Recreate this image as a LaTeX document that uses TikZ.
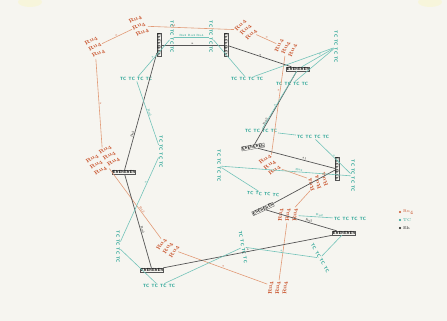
\documentclass[tikz,border=0pt]{standalone}
\usepackage{graphicx}
\definecolor{paper}{RGB}{246,245,240}
\definecolor{ruc}{RGB}{200,80,40}
\definecolor{rul}{RGB}{226,155,120}
\definecolor{tcc}{RGB}{30,160,145}
\definecolor{tcl}{RGB}{115,195,185}
\definecolor{ehc}{RGB}{20,20,20}
\definecolor{ehl}{RGB}{85,85,85}
\newcommand\itRu{{\fontsize{5.5}{6}\selectfont\bfseries Ru$_{\mathbf 4}$}}
\newcommand\itTC{{\fontsize{4.6}{5}\selectfont\sffamily\bfseries TC}}
\newcommand\itEh{{\fontsize{4.4}{5}\selectfont\sffamily\bfseries Eh}}
\newcommand\rthree{\rotatebox{90}{\itRu}\hspace{2pt}\rotatebox{90}{\itRu}\hspace{2pt}\rotatebox{90}{\itRu}}
\newcommand\tfour{\itTC\hspace{2pt}\itTC\hspace{2pt}\itTC\hspace{2pt}\itTC}
\newcommand\efour{\itEh\hspace{0.3pt}\itEh\hspace{0.3pt}\itEh\hspace{0.3pt}\itEh}
\tikzset{
  rnode/.style={text=ruc, inner sep=0.6pt},
  tnode/.style={text=tcc, inner sep=0.6pt},
  knode/.style={text=ehc, draw=ehl, line width=0.3pt, inner sep=0.5pt},
  rl/.style={draw=rul, line width=0.6pt},
  tl/.style={draw=tcl, line width=0.6pt},
  kl/.style={draw=ehl, line width=0.7pt},
  lab/.style={font=\fontsize{3}{3.5}\selectfont, inner sep=0.6pt, sloped, above},
}
\begin{document}
\begin{tikzpicture}[x=1pt,y=-1pt]
\fill[paper] (0,0) rectangle (447,321);
\useasboundingbox (0,0) rectangle (447,321);
\fill[yellow!15!paper, opacity=0.6] (30,2) ellipse (12 and 5);
\fill[yellow!15!paper, opacity=0.6] (430,2) ellipse (12 and 5);

% orange clusters
\node[rnode, rotate=-60] (O1) at (95,47) {\rthree};
\node[rnode, rotate=-62] (O2) at (139,26) {\rthree};
\node[rnode, rotate=-42] (O3) at (246,30) {\rthree};
\node[rnode, rotate=-20] (O4) at (286,48) {\rthree};
\node[rnode, rotate=-55, align=center] (O5) at (103,160) {\rthree\\[1pt]\rthree};
\node[rnode, rotate=-30] (O6) at (168,248) {\rthree};
\node[rnode, rotate=-50] (O7) at (270,165) {\rthree};
\node[rnode, rotate=22] (O8) at (318,182) {\rthree};
\node[rnode] (O9) at (288,215) {\rthree};
\node[rnode] (O10) at (278,288) {\rthree};

% black clusters
\node[knode, rotate=-90] (K1) at (159,45) {\efour};
\node[knode, rotate=-90] (K2) at (226,45) {\efour};
\node[knode] (K3) at (298,69) {\efour};
\node[knode, rotate=10] (K4) at (253,147) {\efour};
\node[knode, rotate=-90] (K5) at (337,169) {\efour};
\node[knode] (K6) at (124,172) {\efour};
\node[knode, rotate=25] (K7) at (263,209) {\efour};
\node[knode] (K8) at (344,233) {\efour};
\node[knode] (K9) at (152,270) {\efour};

% teal clusters
\node[tnode, rotate=-90] (T1) at (172,37) {\tfour};
\node[tnode, rotate=-90] (T2) at (211,37) {\tfour};
\node[tnode] (T3) at (136,79) {\tfour};
\node[tnode] (T4) at (247,79) {\tfour};
\node[tnode, rotate=-90] (T5) at (336,47) {\tfour};
\node[tnode] (T6) at (292,84) {\tfour};
\node[tnode] (T7) at (261,131) {\tfour};
\node[tnode] (T8) at (313,137) {\tfour};
\node[tnode, rotate=-90] (T9) at (161,152) {\tfour};
\node[tnode, rotate=-90] (T10) at (219,166) {\tfour};
\node[tnode, rotate=-90] (T11) at (353,176) {\tfour};
\node[tnode, rotate=-5] (T12) at (263,194) {\tfour};
\node[tnode] (T13) at (350,219) {\tfour};
\node[tnode, rotate=-90] (T14) at (118,247) {\tfour};
\node[tnode, rotate=-80] (T15) at (243,247) {\tfour};
\node[tnode, rotate=-60] (T16) at (320,258) {\tfour};
\node[tnode] (T17) at (159,286) {\tfour};

% orange edges
\draw[rl] (O1) -- node[lab, text=ruc] {a} (O2);
\draw[rl] (O1) -- node[lab, text=ruc] {a} (O5);
\draw[rl] (O2) -- node[lab, text=ruc, pos=0.3] {a1} (O3);
\draw[rl] (O3) -- node[lab, text=ruc] {a} (O4);
\draw[rl] (O4) -- node[lab, text=ruc, pos=0.35] {a} (O7);
\draw[rl] (O5) -- node[lab, text=ruc, pos=0.6] {Ru2} (O6);
\draw[rl] (O6) -- node[lab, text=ruc] {a} (O10);
\draw[rl] (O7) -- node[lab, text=ruc] {a} (O8);
\draw[rl] (O8) -- (O9);
\draw[rl] (O9) -- (O10);

% black edges
\draw[kl] (K1) -- node[lab, text=ehc] {a} (K2);
\draw[kl] (K2) -- node[lab, text=ehc] {a} (K3);
\draw[kl] (K1) -- node[lab, text=ehc, pos=0.7] {Ru2} (K6);
\draw[kl] (K6) -- node[lab, text=ehc, pos=0.6] {Ru2} (K9);
\draw[kl] (K3) -- node[lab, text=ehc, pos=0.7] {Ru2} (K4);
\draw[kl] (K4) -- node[lab, text=ehc, pos=0.6] {a1} (K5);
\draw[kl] (K5) -- (K7);
\draw[kl] (K7) -- node[lab, text=ehc, pos=0.6] {Ru2} (K8);
\draw[kl] (K8) -- node[lab, text=ehc] {a} (K9);

% teal edges
\draw[tl] (T1) -- node[lab, text=tcc] {Ru2 Ru3 Ru4} (T2);
\draw[tl] (T1) -- node[lab, text=tcc] {a} (T3);
\draw[tl] (T2) -- (T4);
\draw[tl] (T4) -- (T5);
\draw[tl] (T5) -- (T6);
\draw[tl] (T5) -- node[lab, text=tcc, pos=0.4] {a} (K3);
\draw[tl] (K3) -- node[lab, text=tcc, pos=0.6] {a} (T7);
\draw[tl] (T7) -- (T8);
\draw[tl] (T8) -- node[lab, text=tcc] {a} (T11);
\draw[tl] (T10) -- node[lab, text=tcc, pos=0.6] {Ru2} (T11);
\draw[tl] (T10) -- (T12);
\draw[tl] (T3) -- node[lab, text=tcc] {Ru2} (T9);
\draw[tl] (T9) -- node[lab, text=tcc, pos=0.3] {a} (T14);
\draw[tl] (T14) -- (T17);
\draw[tl] (T17) -- (T15);
\draw[tl] (T15) -- node[lab, text=tcc] {a} (T16);
\draw[tl] (T16) -- (K8);
\draw[tl] (T13) -- node[lab, text=tcc, pos=0.4] {Ru2} (O9);

% legend
\fill[ruc] (400,212) circle (1.1) coordinate (L1);
\fill[tcc] (400,220) circle (1.1) coordinate (L2);
\fill[ehc] (400,228) circle (1.1) coordinate (L3);
\node[anchor=west, text=ruc, font=\fontsize{4}{5}\selectfont, inner sep=0.5pt] (LT1) at (402.5,212) {Ru$_4$};
\node[anchor=west, text=tcc, font=\fontsize{4}{5}\selectfont, inner sep=0.5pt] (LT2) at (402.5,220) {TC};
\node[anchor=west, text=ehc, font=\fontsize{4}{5}\selectfont, inner sep=0.5pt] (LT3) at (402.5,228) {Eh};
\end{tikzpicture}
\end{document}
